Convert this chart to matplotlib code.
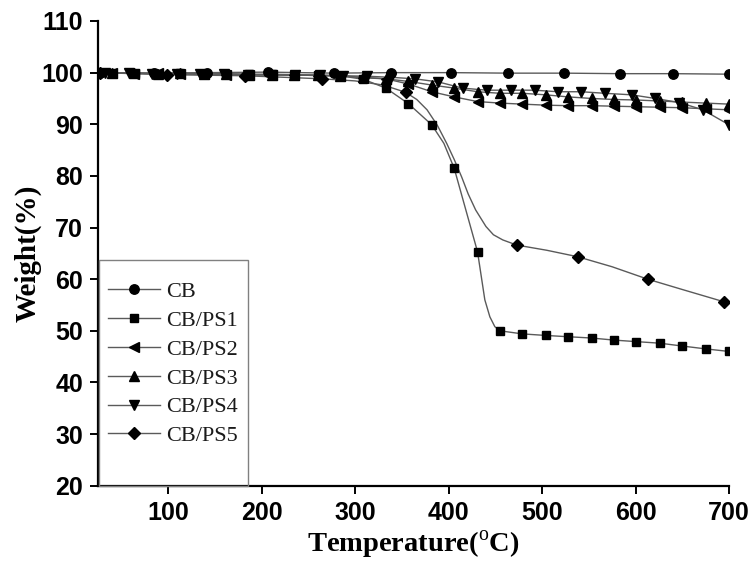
import matplotlib
matplotlib.use("Agg")
import matplotlib.pyplot as plt
from matplotlib.patches import Rectangle
import numpy as np

# ---- data: temperature (deg C) and residual weight (%) ----
cb_t = [27, 85, 142, 207, 277, 338, 403, 464, 524, 583, 640, 700]
cb_w = [100.0, 99.9, 100.0, 100.1, 99.9, 100.0, 100.0, 99.9, 99.9, 99.8, 99.8, 99.7]

ps1_t = [40, 65, 89, 113, 138, 162, 187, 211, 235, 260, 284, 309, 333, 357,
         382, 406, 431, 455, 479, 504, 528, 553, 577, 601, 626, 650, 675, 700]
ps1_w = [100.0, 99.9, 99.8, 99.9, 99.8, 99.8, 99.7, 99.7, 99.6, 99.5, 99.4, 98.7,
         97.0, 94.0, 89.9, 81.5, 65.3, 50.0, 49.4, 49.1, 48.85, 48.6, 48.2, 47.9,
         47.6, 47.05, 46.5, 46.0]
ps1_curve_t = [25, 395, 438.8, 444.2, 449.5]
ps1_curve_w = [100.0, 86.3, 56.0, 52.7, 50.8]

ps2_t = [40, 64, 89, 113, 138, 162, 187, 211, 235, 260, 284, 309, 333, 357,
         382, 406, 431, 455, 479, 504, 528, 553, 577, 601, 626, 650, 675, 700]
ps2_w = [100.0, 99.8, 99.9, 99.7, 99.8, 99.6, 99.6, 99.5, 99.6, 99.4, 99.4, 99.0,
         98.8, 97.8, 96.3, 95.3, 94.4, 94.1, 93.9, 93.7, 93.6, 93.6, 93.5, 93.4,
         93.3, 93.2, 93.0, 92.8]

ps3_t = [40, 64, 89, 113, 138, 162, 187, 211, 235, 260, 284, 309, 333, 357,
         382, 406, 431, 455, 479, 504, 528, 553, 577, 601, 626, 650, 675, 700]
ps3_w = [100.0, 99.9, 99.8, 99.9, 99.7, 99.7, 99.6, 99.6, 99.5, 99.5, 99.3, 99.1,
         98.8, 98.3, 97.6, 97.0, 96.3, 96.0, 96.0, 95.7, 95.3, 95.0, 94.8, 94.7,
         94.5, 94.3, 94.1, 93.9]

ps4_t = [32, 58, 83, 109, 134, 160, 185, 211, 236, 262, 287, 313, 338, 364,
         389, 415, 441, 467, 492, 517, 542, 567, 596, 621, 647, 672, 700]
ps4_w = [100.0, 99.9, 99.8, 99.8, 99.7, 99.7, 99.6, 99.6, 99.5, 99.5, 99.4, 99.3,
         99.1, 98.8, 98.2, 97.0, 96.6, 96.6, 96.6, 96.3, 96.3, 96.0, 95.7, 95.0,
         94.2, 92.8, 89.9]

ps5_t = [27, 99, 182, 265, 354, 473, 538, 613, 695]
ps5_w = [100.0, 99.6, 99.4, 98.8, 96.2, 66.6, 64.35, 60.0, 55.6]
ps5_curve_t = [300, 330, 366, 377, 388, 398, 406, 414, 421, 429, 440, 448, 458,
               505, 575, 650, 700]
ps5_curve_w = [98.4, 97.6, 94.8, 92.8, 89.8, 86.3, 83.2, 79.8, 76.5, 73.4, 70.2,
               68.6, 67.6, 65.6, 62.4, 58.0, 55.5]

labels = ["CB", "CB/PS1", "CB/PS2", "CB/PS3", "CB/PS4", "CB/PS5"]
markers = ["o", "s", "<", "^", "v", "D"]
msizes = [6.8, 6.2, 7.8, 7.8, 7.8, 6.2]

x_ticks = [100, 200, 300, 400, 500, 600, 700]
y_ticks = [20, 30, 40, 50, 60, 70, 80, 90, 100, 110]

plt.rcParams["mathtext.fontset"] = "custom"
plt.rcParams["mathtext.rm"] = "Liberation Serif"
plt.rcParams["mathtext.bf"] = "Liberation Serif:bold"

fig = plt.figure(figsize=(7.54, 5.62), dpi=100)
ax = fig.add_axes([98 / 754, 1 - 485.7 / 562, 631 / 754, 464.7 / 562])

LINE_C = "#5a5a5a"


def draw(mark_t, mark_w, curve_t, curve_w, marker, ms, label):
    t = np.array(list(mark_t) + list(curve_t), dtype=float)
    w = np.array(list(mark_w) + list(curve_w), dtype=float)
    order = np.argsort(t)
    ax.plot(t[order], w[order], color=LINE_C, lw=1.0, zorder=2)
    ax.plot(mark_t, mark_w, linestyle="none", marker=marker, ms=ms,
            color="black", zorder=3)
    # proxy for the legend: line through the marker
    return ax.plot([], [], color=LINE_C, lw=1.0, marker=marker, ms=ms,
                   markerfacecolor="black", markeredgecolor="black",
                   label=label)[0]


handles = []
handles.append(draw(cb_t, cb_w, [25], [100.0], markers[0], msizes[0], labels[0]))
handles.append(draw(ps1_t, ps1_w, ps1_curve_t, ps1_curve_w, markers[1], msizes[1], labels[1]))
handles.append(draw(ps2_t, ps2_w, [25], [100.0], markers[2], msizes[2], labels[2]))
handles.append(draw(ps3_t, ps3_w, [25], [100.0], markers[3], msizes[3], labels[3]))
handles.append(draw(ps4_t, ps4_w, [25], [100.0], markers[4], msizes[4], labels[4]))
handles.append(draw(ps5_t, ps5_w, ps5_curve_t, ps5_curve_w, markers[5], msizes[5], labels[5]))

ax.set_xlim(25, 700)
ax.set_ylim(20, 110)
ax.set_xticks(x_ticks)
ax.set_yticks(y_ticks)

for side in ("top", "right"):
    ax.spines[side].set_visible(False)
for side in ("left", "bottom"):
    ax.spines[side].set_linewidth(1.6)

ax.tick_params(direction="out", length=5.8, width=1.4, pad=5)
for lab in ax.get_xticklabels() + ax.get_yticklabels():
    lab.set_fontfamily("Liberation Sans")
    lab.set_fontweight("bold")
    lab.set_fontsize(18)

ax.set_xlabel("Temperature($^{\\rm o}$C)", fontfamily="Liberation Serif",
              fontweight="bold", fontsize=20.5, labelpad=3)
ax.set_ylabel("Weight(%)", fontfamily="Liberation Serif",
              fontweight="bold", fontsize=21, labelpad=0)

# legend frame reaching down to the x axis
ax.add_patch(Rectangle((0.002, 0.0), 0.236, 0.4857, transform=ax.transAxes,
                       fill=False, edgecolor="#808080", lw=1.0, zorder=4,
                       clip_on=False))
leg = ax.legend(handles=handles, loc="upper left",
                bbox_to_anchor=(0.0158, 0.439), frameon=False,
                prop={"family": "Liberation Serif", "size": 16},
                handlelength=2.34, handletextpad=0.27, labelspacing=0.37,
                borderpad=0.0, borderaxespad=0.0)
for txt in leg.get_texts():
    txt.set_color("#1a1a1a")

fig.savefig("out.png", dpi=100)
